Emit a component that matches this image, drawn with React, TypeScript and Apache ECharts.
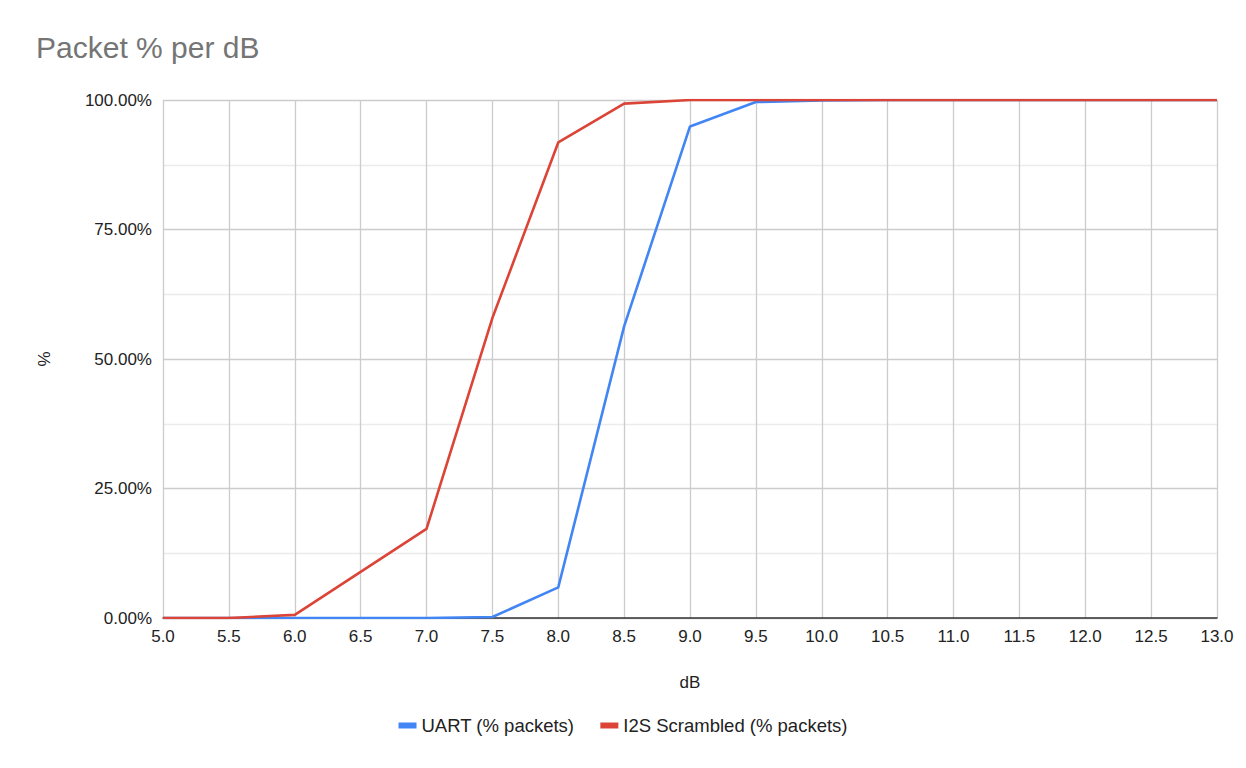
import React, { useEffect, useRef } from "react";
import * as echarts from "echarts";

const dB = [5.0, 5.5, 6.0, 6.5, 7.0, 7.5, 8.0, 8.5, 9.0, 9.5, 10.0, 10.5, 11.0, 11.5, 12.0, 12.5, 13.0];
const uart = [0, 0, 0, 0, 0, 0.2, 5.9, 56.3, 94.9, 99.6, 99.9, 100, 100, 100, 100, 100, 100];
const i2s = [0, 0, 0.6, 8.9, 17.2, 57.9, 91.8, 99.3, 100, 100, 100, 100, 100, 100, 100, 100, 100];

const FONT = "'Liberation Sans', Arial, sans-serif";

export default function App() {
  const ref = useRef<HTMLDivElement>(null);
  useEffect(() => {
    if (!ref.current) return;
    const chart = echarts.init(ref.current, null, { renderer: "svg" });
    chart.setOption({
      animation: false,
      backgroundColor: "#ffffff",
      textStyle: { fontFamily: FONT },
      title: {
        text: "Packet % per dB",
        left: 36,
        top: 32,
        padding: 0,
        textStyle: { fontFamily: FONT, fontSize: 30, fontWeight: "normal", color: "#757575" },
      },
      legend: {
        bottom: 28,
        left: "center",
        icon: "rect",
        itemWidth: 18,
        itemHeight: 6,
        itemGap: 26,
        itemTextGap: 12,
        itemStyle: { borderWidth: 0 },
        textStyle: { fontFamily: FONT, fontSize: 18.5, color: "#222222" },
        data: ["UART (% packets)", "I2S Scrambled (% packets)"],
      },
      grid: { left: 163, right: 29, top: 100, bottom: 150, containLabel: false },
      xAxis: {
        type: "value",
        min: 5,
        max: 13,
        interval: 0.5,
        name: "dB",
        nameLocation: "middle",
        nameGap: 56,
        nameTextStyle: { fontFamily: FONT, fontSize: 17, color: "#222222" },
        axisLine: { show: true, lineStyle: { color: "#333333", width: 1.5 } },
        axisTick: { show: false },
        axisLabel: {
          fontFamily: FONT,
          fontSize: 17,
          color: "#222222",
          margin: 10,
          formatter: (v: number) => v.toFixed(1),
        },
        splitLine: { show: true, lineStyle: { color: "#cccccc", width: 1.3 } },
      },
      yAxis: {
        type: "value",
        min: 0,
        max: 100,
        interval: 25,
        name: "%",
        nameLocation: "middle",
        nameGap: 110,
        nameRotate: 90,
        nameTextStyle: { fontFamily: FONT, fontSize: 17, color: "#222222" },
        axisLine: { show: false },
        axisTick: { show: false },
        axisLabel: {
          fontFamily: FONT,
          fontSize: 17,
          color: "#222222",
          margin: 11,
          formatter: (v: number) => v.toFixed(2) + "%",
        },
        splitLine: { show: true, lineStyle: { color: "#cccccc", width: 1.3 } },
        minorTick: { show: false, splitNumber: 2 },
        minorSplitLine: { show: true, lineStyle: { color: "#ebebeb", width: 1.3 } },
      },
      series: [
        {
          name: "UART (% packets)",
          type: "line",
          data: dB.map((x, i) => [x, uart[i]]),
          showSymbol: false,
          symbol: "none",
          color: "#4285f4",
          lineStyle: { color: "#4285f4", width: 2.6 },
          z: 3,
        },
        {
          name: "I2S Scrambled (% packets)",
          type: "line",
          data: dB.map((x, i) => [x, i2s[i]]),
          showSymbol: false,
          symbol: "none",
          color: "#db4437",
          lineStyle: { color: "#db4437", width: 2.6 },
          z: 4,
        },
      ],
    });
    return () => chart.dispose();
  }, []);
  return (
    <div
      ref={ref}
      style={{ position: "absolute", left: 0, top: 0, width: 1246, height: 768 }}
    />
  );
}
